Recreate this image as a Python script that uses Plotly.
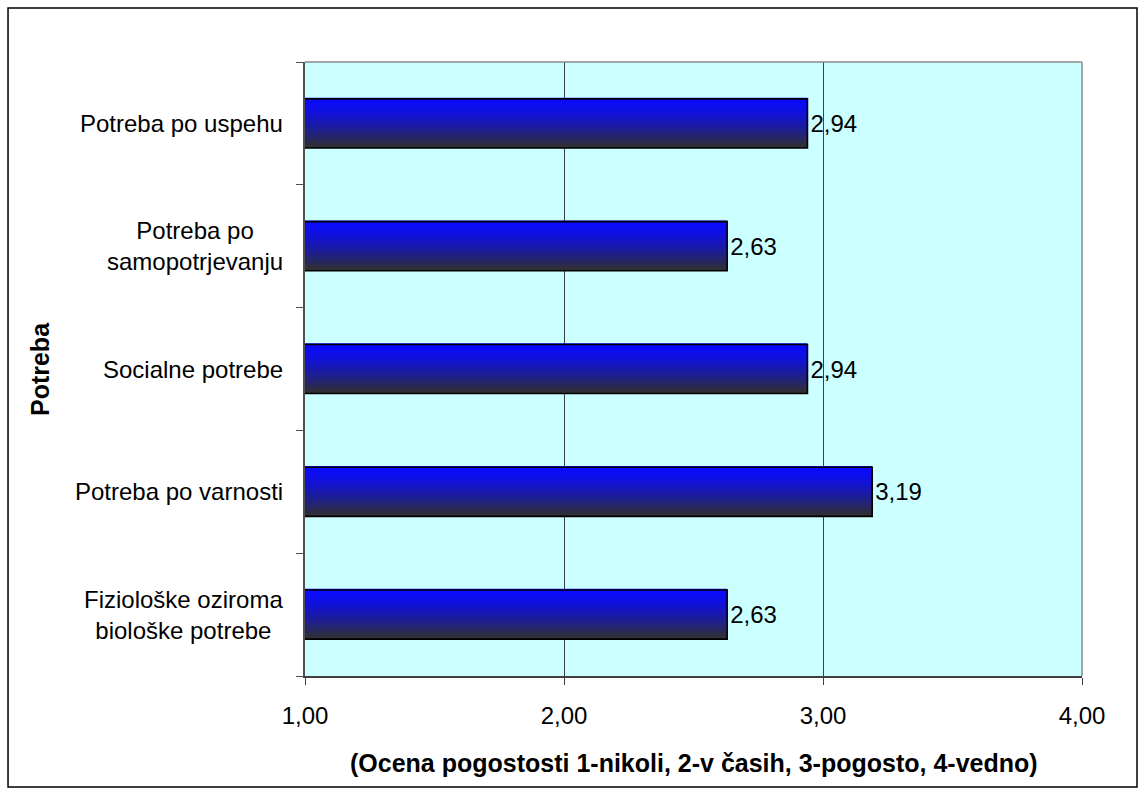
import plotly.graph_objects as go

# Categories from bottom to top, with their mean ratings
categories = [
    "Fiziološke oziroma<br>biološke potrebe",
    "Potreba po varnosti",
    "Socialne potrebe",
    "Potreba po<br>samopotrjevanju",
    "Potreba po uspehu",
]
values = [2.63, 3.19, 2.94, 2.63, 2.94]
x_ticks = [1, 2, 3, 4]

x_title = "(Ocena pogostosti 1-nikoli, 2-v časih, 3-pogosto, 4-vedno)"
y_title = "Potreba"

FONT = "Liberation Sans, Arial, sans-serif"
BAR_W = 0.4
N_SLICES = 25
TOP_RGB = (10, 10, 255)
BOT_RGB = (48, 48, 48)

fig = go.Figure()

# Vertical blue-to-grey gradient built from thin stacked slices of each bar
sw = BAR_W / N_SLICES
for i in range(N_SLICES):
    t = (i + 0.5) / N_SLICES
    t = t ** 1.45
    r, g, b = (round(a + (c - a) * t) for a, c in zip(TOP_RGB, BOT_RGB))
    fig.add_trace(go.Bar(
        y=categories, x=values, base=0, orientation="h",
        width=sw * 1.6, offset=BAR_W / 2 - (i + 1) * sw,
        marker=dict(color=f"rgb({r},{g},{b})", line=dict(width=0)),
        hoverinfo="skip", showlegend=False,
    ))

# Outline and value labels
fig.add_trace(go.Bar(
    y=categories, x=values, base=0, orientation="h",
    width=BAR_W, offset=-BAR_W / 2,
    marker=dict(color="rgba(0,0,0,0)", line=dict(color="black", width=1.6)),
    texttemplate="%{x:.2f}", textposition="outside", constraintext="none",
    cliponaxis=False,
    textfont=dict(family=FONT, size=24, color="black"),
    hoverinfo="skip", showlegend=False,
))

# Category labels, centred line by line
annotations = [
    dict(x=0, xref="paper", y=c, yref="y", text=c, showarrow=False,
         xanchor="right", align="center", xshift=-20,
         font=dict(family=FONT, size=24, color="black"))
    for c in categories
]
annotations.append(dict(
    x=0.5, xref="paper", y=-0.141, yref="paper", text=f"<b>{x_title}</b>",
    showarrow=False, xanchor="center", yanchor="middle",
    font=dict(family=FONT, size=25, color="black")))
annotations.append(dict(
    x=-0.341, xref="paper", y=0.5, yref="paper", text=f"<b>{y_title}</b>",
    showarrow=False, textangle=-90, xanchor="center", yanchor="middle",
    font=dict(family=FONT, size=25, color="black")))

shapes = [
    # plot-area top and right edges
    dict(type="line", xref="paper", yref="paper", x0=0, x1=1, y0=1, y1=1,
         line=dict(color="#8a8a8a", width=1.5)),
    dict(type="line", xref="paper", yref="paper", x0=1, x1=1, y0=0, y1=1,
         line=dict(color="#8a8a8a", width=1.5)),
    # chart frame
    dict(type="rect", xref="paper", yref="paper",
         x0=-0.3822, x1=1.0708, y0=-0.1808, y1=1.088,
         line=dict(color="black", width=1.5), layer="below"),
]

fig.update_layout(
    width=1146, height=796,
    margin=dict(l=305, r=64, t=62, b=120),
    paper_bgcolor="white", plot_bgcolor="#CCFFFF",
    barmode="overlay", separators=", ",
    font=dict(family=FONT, size=24, color="black"),
    annotations=annotations, shapes=shapes,
    xaxis=dict(
        range=[1, 4], tickvals=x_ticks, tickformat=".2f",
        showgrid=True, gridcolor="#404040", gridwidth=1,
        showline=True, linecolor="#404040", linewidth=1.5,
        ticks="outside", ticklen=7, tickcolor="#404040",
        ticklabelstandoff=10, zeroline=False, fixedrange=True,
        tickfont=dict(family=FONT, size=24, color="black"),
    ),
    yaxis=dict(
        categoryorder="array", categoryarray=categories,
        showticklabels=False, showgrid=False,
        showline=True, linecolor="#505050", linewidth=1.5,
        ticks="outside", ticklen=7, tickcolor="#505050", tickson="boundaries",
        range=[-0.5, len(categories) - 0.5], fixedrange=True,
    ),
)

fig.write_html("out.html")
